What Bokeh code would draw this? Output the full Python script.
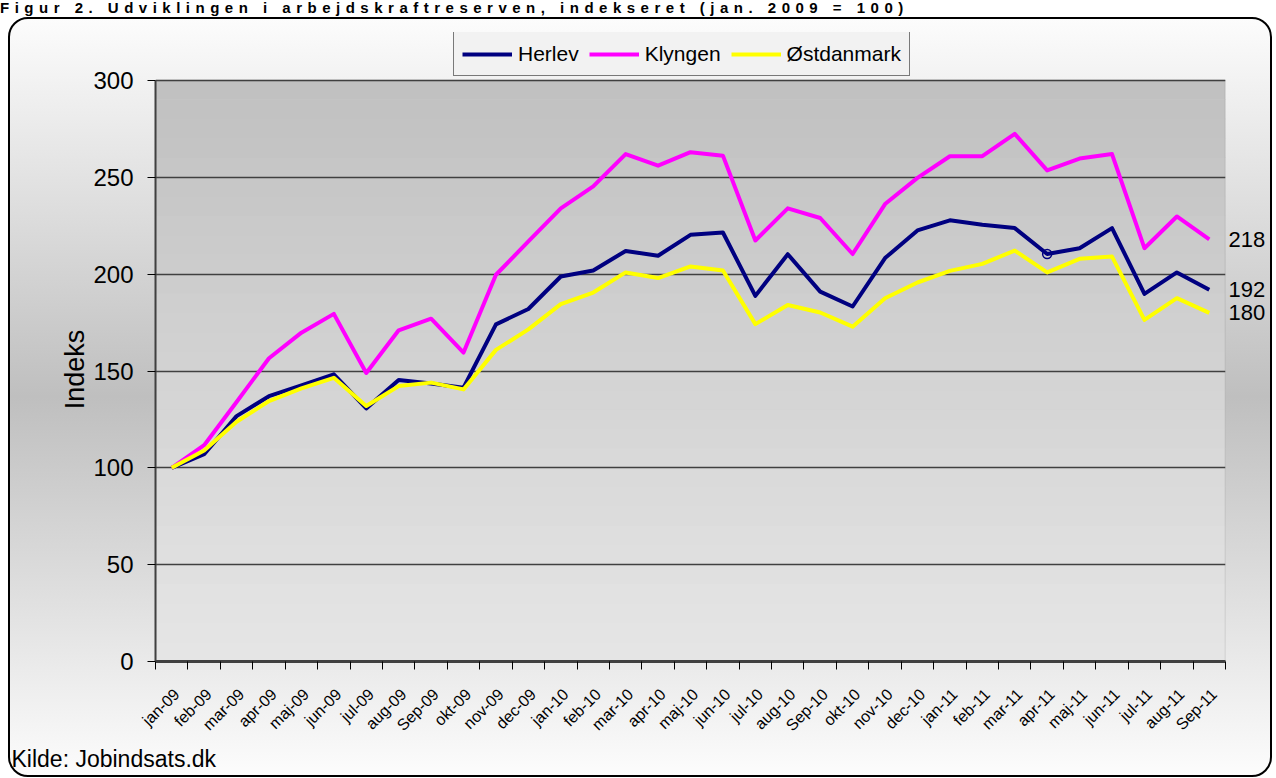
import math
from bokeh.plotting import figure
from bokeh.models import (ColumnDataSource, Range1d, LinearAxis, FixedTicker, BoxAnnotation,
                          Legend, LegendItem, Grid, Title, Div)
from bokeh.layouts import column
from bokeh.embed import file_html
from bokeh.resources import INLINE

# ---------------- data ----------------
months = ["jan-09", "feb-09", "mar-09", "apr-09", "maj-09", "jun-09", "jul-09", "aug-09", "Sep-09",
          "okt-09", "nov-09", "dec-09", "jan-10", "feb-10", "mar-10", "apr-10", "maj-10", "jun-10",
          "jul-10", "aug-10", "Sep-10", "okt-10", "nov-10", "dec-10", "jan-11", "feb-11", "mar-11",
          "apr-11", "maj-11", "jun-11", "jul-11", "aug-11", "Sep-11"]

herlev = [100, 107, 126.7, 137, 142.5, 148.3, 130.7, 145.3, 143.6, 141.4, 174.1, 182, 198.8,
          201.9, 212, 209.5, 220.3, 221.5, 188.8, 210.3, 191, 183.3, 208.3, 222.6, 227.8, 225.5,
          223.8, 210.4, 213.4, 223.8, 189.8, 200.9, 192]
klyngen = [100, 111.7, 134, 156.6, 169.8, 179.5, 149, 171, 177, 159.5, 199.7, 216.9, 234,
           245.3, 262, 256, 263, 261.2, 217.4, 234, 229, 210.4, 236.2, 249.7, 260.9, 260.9,
           272.4, 253.6, 259.7, 262, 213.4, 229.8, 218]
ostdanmark = [100, 109, 123.8, 134.5, 141, 146.5, 131.9, 142.2, 144, 140.5, 160.9, 171.5, 184.5,
              190.5, 200.9, 198, 204, 201.9, 174.2, 184.1, 180.2, 172.9, 187.6, 195.7, 201.7,
              205.3, 212.2, 200.9, 207.9, 209.1, 176.4, 187.6, 180]

series_names = ["Herlev", "Klyngen", "Østdanmark"]
series_colors = ["#000080", "#FF00FF", "#FFFF00"]
y_ticks = [0, 50, 100, 150, 200, 250, 300]
y_max = 300
marked_index = 27  # small marker on Herlev (apr-11)

title_text = "Figur 2. Udviklingen i arbejdskraftreserven, indekseret (jan. 2009 = 100)"
source_text = "Kilde: Jobindsats.dk"
y_label = "Indeks"

# ---------------- layout constants ----------------
W, H = 1264, 760
FONT = "Liberation Sans"
PLOT_LEFT, PLOT_RIGHT = 145, 49          # px around the plot area
PLOT_TOP_PX, PLOT_BOTTOM_PX = 61, 642    # plot area top / bottom inside canvas
FRAME_TOP = 13                           # frame extends above the plot area to hold the legend
LABEL_SHIFT = 0.15                       # category-label anchor shift (in categories)
n = len(months)
x = list(range(n))

px_per_unit = (PLOT_BOTTOM_PX - PLOT_TOP_PX) / y_max
y_top = y_max + (PLOT_TOP_PX - FRAME_TOP) / px_per_unit

p = figure(width=W, height=H, output_backend="svg", toolbar_location=None,
           x_range=Range1d(-0.5, n - 0.5), y_range=Range1d(0, y_top),
           x_axis_type=None, y_axis_type=None,
           min_border_left=PLOT_LEFT, min_border_right=PLOT_RIGHT,
           min_border_top=FRAME_TOP, min_border_bottom=H - PLOT_BOTTOM_PX)
p.border_fill_color = None
p.background_fill_color = None
p.outline_line_color = None
p.margin = (0, 0, 0, 8)
p.styles = {
    "background": "linear-gradient(to bottom, #fcfcfc 0%, #bfbfbf 50%, #fcfcfc 100%)",
    "border": "2px solid black",
    "border-radius": "20px",
}


def mix(c1, c2, t):
    a = [int(c1[i:i + 2], 16) for i in (1, 3, 5)]
    b = [int(c2[i:i + 2], 16) for i in (1, 3, 5)]
    return "#%02x%02x%02x" % tuple(round(a[k] + (b[k] - a[k]) * t) for k in range(3))


# plot-area gradient
psteps = 30
for k in range(psteps):
    b = y_max * k / psteps
    t_ = y_max * (k + 1) / psteps
    col = mix("#e6e6e6", "#c0c0c0", (k + 0.5) / psteps)
    p.add_layout(BoxAnnotation(left=-0.5, right=n - 0.5, bottom=b, top=t_ + 0.3,
                               fill_color=col, fill_alpha=1, line_alpha=0, level="image"))
# plot-area outline
p.add_layout(BoxAnnotation(left=-0.5, right=n - 0.5, bottom=0, top=y_max, fill_alpha=0,
                           line_color="#808080", line_width=1.5, level="underlay"))

# axes
yaxis = LinearAxis(ticker=FixedTicker(ticks=y_ticks),
                   axis_label=y_label + "\u00a0" * 6, bounds=(0, y_max))
yaxis.axis_line_color = "#404040"
yaxis.axis_line_width = 2
yaxis.major_tick_out = 8
yaxis.major_tick_in = 0
yaxis.major_tick_line_color = "black"
yaxis.minor_tick_line_color = None
yaxis.major_label_text_font = FONT
yaxis.major_label_text_font_size = "24px"
yaxis.major_label_text_color = "black"
yaxis.major_label_standoff = 14
yaxis.axis_label_text_font = FONT
yaxis.axis_label_text_font_size = "27px"
yaxis.axis_label_text_font_style = "normal"
yaxis.axis_label_text_color = "black"
yaxis.axis_label_standoff = 0
p.add_layout(yaxis, "left")

boundaries = [i - 0.5 for i in range(n + 1)]
label_pos = [i + LABEL_SHIFT for i in x]
xaxis = LinearAxis(ticker=FixedTicker(ticks=label_pos, minor_ticks=boundaries))
xaxis.major_label_overrides = {lp: m for lp, m in zip(label_pos, months)}
xaxis.major_label_orientation = math.pi / 4
xaxis.major_label_text_font = FONT
xaxis.major_label_text_font_size = "16px"
xaxis.major_label_text_color = "black"
xaxis.major_label_standoff = 22
xaxis.major_tick_line_color = None
xaxis.minor_tick_line_color = "black"
xaxis.minor_tick_out = 8
xaxis.minor_tick_in = 0
xaxis.axis_line_color = "#404040"
xaxis.axis_line_width = 3
p.add_layout(xaxis, "below")

p.add_layout(Grid(dimension=1, ticker=yaxis.ticker, grid_line_color="#404040",
                  grid_line_width=1.5))

# data
src = ColumnDataSource(dict(x=x, herlev=herlev, klyngen=klyngen, ostdanmark=ostdanmark))
cols = ["herlev", "klyngen", "ostdanmark"]
renderers = []
for c, name, color in zip(cols, series_names, series_colors):
    r = p.line("x", c, source=src, line_color=color, line_width=4, line_join="round")
    renderers.append(r)

mk = ColumnDataSource(dict(x=[x[marked_index]], y=[herlev[marked_index]]))
p.scatter("x", "y", source=mk, marker="circle", size=9, fill_alpha=0,
          line_color=series_colors[0], line_width=1.5)

# end-of-series value labels, through a right-hand axis on the same y scale
last_vals = [herlev[-1], klyngen[-1], ostdanmark[-1]]
raxis = LinearAxis(ticker=FixedTicker(ticks=[round(v) for v in last_vals]))
raxis.major_label_overrides = {round(v): "%d" % round(v) for v in last_vals}
raxis.axis_line_color = None
raxis.major_tick_line_color = None
raxis.minor_tick_line_color = None
raxis.major_tick_out = 0
raxis.major_tick_in = 0
raxis.major_label_standoff = 3
raxis.major_label_text_font = FONT
raxis.major_label_text_font_size = "22px"
raxis.major_label_text_color = "black"
p.add_layout(raxis, "right")

# legend (in the upper part of the frame, above the plot area)
legend = Legend(items=[LegendItem(label=nm, renderers=[r]) for nm, r in zip(series_names, renderers)],
                orientation="horizontal", location=(298, 585))
legend.label_text_font = FONT
legend.label_text_font_size = "21px"
legend.label_text_color = "black"
legend.glyph_width = 50
legend.glyph_height = 20
legend.label_standoff = 6
legend.spacing = 10
legend.padding = 8
legend.margin = 0
legend.label_height = 27
legend.border_line_color = "black"
legend.border_line_width = 1
legend.background_fill_color = "#f2f2f2"
legend.background_fill_alpha = 1
p.add_layout(legend)

# source note below the axis
p.add_layout(Title(text=source_text, align="left", offset=-144, standoff=0,
                   text_font=FONT, text_font_size="23px", text_font_style="normal",
                   text_color="black"), "below")

title_div = Div(text=('<div style="font-family: \'Liberation Sans\'; font-weight: bold; '
                      'font-size: 15px; letter-spacing: 5.5px; white-space: nowrap; '
                      'line-height: 15px; margin: 0; padding: 0;">' + title_text + '</div>'),
                width=1264, height=17, margin=0)

layout = column(title_div, p, spacing=0)
open("out.html", "w").write(file_html(layout, INLINE))
